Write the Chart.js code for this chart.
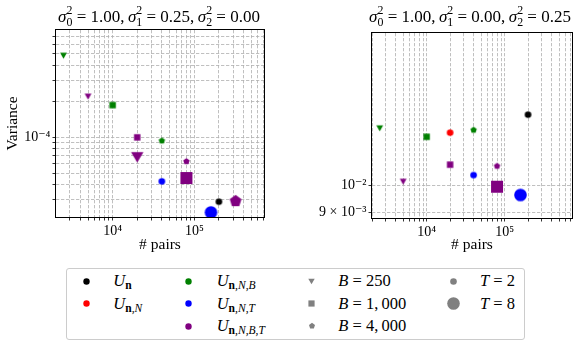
<!DOCTYPE html>
<html>
<head>
<meta charset="utf-8">
<script src="https://cdn.jsdelivr.net/npm/chart.js@4.4.1/dist/chart.umd.min.js"></script>
<style>
  body { margin: 0; width: 584px; height: 347px; background: #fff; position: relative; overflow: hidden;
         font-family: 'Liberation Serif', 'DejaVu Serif', serif; color: #000; }
  canvas { position: absolute; top: 0; }
  #leftChart { left: 0; }
  #rightChart { left: 292px; }
  .title { position: absolute; top: 5px; width: 300px; text-align: center; font-size: 17px; line-height: 18px; white-space: nowrap; }
  .sc { display: inline-block; font-size: 0.7em; line-height: 1em; vertical-align: -0.36em; text-align: left; }
  .sc span { display: block; }
  #legend { position: absolute; left: 66px; top: 268px; width: 459px; height: 72px; box-sizing: border-box;
            border: 1px solid #cccccc; border-radius: 3px; }
  .lbl { position: absolute; font-size: 16.5px; line-height: 18px; white-space: nowrap; transform: translateY(-50%); }
  .lbl sub { font-size: 0.7em; vertical-align: -0.3em; line-height: 0; }
  .mk { position: absolute; }
</style>
</head>
<body>
<canvas id="leftChart" width="292" height="262"></canvas>
<canvas id="rightChart" width="292" height="262"></canvas>
<div class="title" id="leftTitle" style="left:9px"></div>
<div class="title" id="rightTitle" style="left:320px"></div>
<div id="legend"></div>
<script>
// ---- data ----
// left panel: sigma0^2 = 1.00, sigma1^2 = 0.25, sigma2^2 = 0.00
const leftSigmas    = ['1.00', '0.25', '0.00'];
const leftPairs     = [200000, 2500, 10000, 40000, 40000, 160000, 5000, 20000, 80000, 20000, 80000, 320000];
const leftVariance  = [2.9e-5, 4.81e-4, 1.86e-4, 9.37e-5, 4.29e-5, 2.36e-5, 2.19e-4, 1.0e-4, 6.3e-5, 6.81e-5, 4.57e-5, 2.93e-5];
const leftEstimator = ['Un', 'UnNB', 'UnNB', 'UnNB', 'UnNT', 'UnNT', 'UnNBT', 'UnNBT', 'UnNBT', 'UnNBT', 'UnNBT', 'UnNBT'];
const leftB         = [null, 250, 1000, 4000, null, null, 250, 1000, 4000, 250, 1000, 4000];
const leftT         = [null, null, null, null, 2, 8, 2, 2, 2, 8, 8, 8];

// right panel: sigma0^2 = 1.00, sigma1^2 = 0.00, sigma2^2 = 0.25
const rightSigmas    = ['1.00', '0.00', '0.25'];
const rightPairs     = [200000, 20000, 2500, 10000, 40000, 40000, 160000, 5000, 20000, 80000, 80000];
const rightVariance  = [1.325e-2, 1.234e-2, 1.255e-2, 1.214e-2, 1.247e-2, 1.043e-2, 9.64e-3, 1.016e-2, 1.087e-2, 1.081e-2, 9.96e-3];
const rightEstimator = ['Un', 'UnN', 'UnNB', 'UnNB', 'UnNB', 'UnNT', 'UnNT', 'UnNBT', 'UnNBT', 'UnNBT', 'UnNBT'];
const rightB         = [null, null, 250, 1000, 4000, null, null, 250, 1000, 4000, 1000];
const rightT         = [null, null, null, null, null, 2, 8, 2, 2, 2, 8];

// axis ranges and tick labels
const leftXRange  = [2025, 713000];
const rightXRange = [1990, 733000];
const leftYRange  = [2.16e-5, 7.89e-4];
const rightYRange = [8.8e-3, 1.831e-2];
const xTickValues = [1e4, 1e5];
const xTickLabels = ['10⁴', '10⁵'];
const leftYTickValues  = [1e-4];
const leftYTickLabels  = ['10⁻⁴'];
const rightYTickValues = [9e-3, 1e-2];
const rightYTickLabels = ['9 × 10⁻³', '10⁻²'];

// ---- styles ----
const FONT = "'Liberation Serif', 'DejaVu Serif', serif";
const estimatorColors = { Un: '#000000', UnN: '#ff0000', UnNB: '#008000', UnNT: '#0000ff', UnNBT: '#800080' };
const shapeForB = { 250: 'triangle', 1000: 'square', 4000: 'pentagon' };
const smallSize = { circle: 6.6, square: 6.4, triangle: 6.8, pentagon: 6.4 };
const bigSize   = { circle: 12.6, square: 12, triangle: 12.4, pentagon: 11.8 };

// Draw one marker shape into a small canvas (used as a Chart.js pointStyle)
function makeMarker(shape, color, size) {
    const pad = 2;
    const dim = Math.ceil(size) + pad * 2;
    const c = document.createElement('canvas');
    c.width = dim;
    c.height = dim;
    const ctx = c.getContext('2d');
    const cx = dim / 2, cy = dim / 2, r = size / 2;
    ctx.fillStyle = color;
    ctx.beginPath();
    if (shape === 'circle') {
        ctx.arc(cx, cy, r, 0, Math.PI * 2);
    } else if (shape === 'square') {
        ctx.rect(cx - r, cy - r, size, size);
    } else if (shape === 'triangle') {
        const h = size * 0.85;  // pointing down
        ctx.moveTo(cx - r, cy - h / 2);
        ctx.lineTo(cx + r, cy - h / 2);
        ctx.lineTo(cx, cy + h / 2);
        ctx.closePath();
    } else if (shape === 'pentagon') {
        const pr = size / 1.902;  // circumradius from width
        for (let k = 0; k < 5; k++) {
            const a = -Math.PI / 2 + k * 2 * Math.PI / 5;
            const x = cx + pr * Math.cos(a), y = cy + pr * Math.sin(a);
            if (k === 0) ctx.moveTo(x, y); else ctx.lineTo(x, y);
        }
        ctx.closePath();
    }
    ctx.fill();
    return c;
}

// all 1..9 x 10^n values inside [min, max]
function logTicks(min, max) {
    const ticks = [];
    for (let e = Math.floor(Math.log10(min)); e <= Math.ceil(Math.log10(max)); e++) {
        for (let d = 1; d <= 9; d++) {
            const v = d * Math.pow(10, e);
            if (v >= min && v <= max) ticks.push({ value: v, major: d === 1 });
        }
    }
    return ticks;
}

function labelFor(v, values, labels) {
    const idx = values.findIndex(t => Math.abs(t - v) / t < 1e-6);
    return idx >= 0 ? labels[idx] : '';
}

// black box round the plot area, like the matplotlib spines
const framePlugin = {
    id: 'frame',
    afterDraw(chart) {
        const { ctx, chartArea: a } = chart;
        ctx.save();
        ctx.strokeStyle = '#000';
        ctx.lineWidth = 1;
        ctx.strokeRect(Math.round(a.left) - 0.5, Math.round(a.top) - 0.5,
                       Math.round(a.right - a.left) + 1, Math.round(a.bottom - a.top) + 1);
        ctx.restore();
    }
};

function logAxis(range, tickValues, tickLabels, extra) {
    return Object.assign({
        type: 'logarithmic',
        min: range[0],
        max: range[1],
        afterBuildTicks: s => { s.ticks = logTicks(s.min, s.max); },
        ticks: {
            autoSkip: false, maxRotation: 0, minRotation: 0, padding: 2, color: '#000',
            font: { family: FONT, size: 14 },
            callback: v => labelFor(v, tickValues, tickLabels)
        },
        grid: { color: '#b0b0b0', lineWidth: 0.8, tickLength: 3.5, tickColor: '#000', tickWidth: 0.8 },
        border: { display: false, dash: [3.3, 1.7] }
    }, extra);
}

function makePanel(canvasId, p) {
    const markers = p.pairs.map((x, i) => {
        const shape = shapeForB[p.B[i]] || 'circle';
        const size = (p.T[i] === 8 ? bigSize : smallSize)[shape];
        return { shape, size, color: estimatorColors[p.estimator[i]] };
    });
    new Chart(document.getElementById(canvasId), {
        type: 'scatter',
        data: {
            datasets: [{
                data: p.pairs.map((x, i) => ({ x: x, y: p.variance[i] })),
                pointStyle: markers.map(m => makeMarker(m.shape, m.color, m.size)),
                pointRadius: markers.map(m => m.size / 2),
                pointHoverRadius: markers.map(m => m.size / 2),
                clip: 0
            }]
        },
        options: {
            responsive: false,
            animation: false,
            events: [],
            layout: { padding: { top: p.padTop, right: p.padRight, left: 0, bottom: 0 } },
            plugins: { legend: { display: false }, tooltip: { enabled: false } },
            scales: {
                x: logAxis(p.xRange, xTickValues, xTickLabels, {
                    title: { display: true, text: '# pairs', color: '#000', font: { family: FONT, size: 15.5 },
                             padding: { top: 0, bottom: 8 } },
                    afterFit: s => { s.height = p.xAxisHeight; }
                }),
                y: logAxis(p.yRange, p.yTickValues, p.yTickLabels, {
                    title: { display: p.yTitle, text: 'Variance', color: '#000', font: { family: FONT, size: 15.5 },
                             padding: { top: 3.5, bottom: 0 } },
                    afterFit: s => { s.width = p.yAxisWidth; }
                })
            }
        },
        plugins: [framePlugin]
    });
}

makePanel('leftChart', {
    pairs: leftPairs, variance: leftVariance, estimator: leftEstimator, B: leftB, T: leftT,
    xRange: leftXRange, yRange: leftYRange, yTickValues: leftYTickValues, yTickLabels: leftYTickLabels,
    yTitle: true, yAxisWidth: 56, xAxisHeight: 45, padTop: 30, padRight: 28
});
makePanel('rightChart', {
    pairs: rightPairs, variance: rightVariance, estimator: rightEstimator, B: rightB, T: rightT,
    xRange: rightXRange, yRange: rightYRange, yTickValues: rightYTickValues, yTickLabels: rightYTickLabels,
    yTitle: false, yAxisWidth: 80, xAxisHeight: 44, padTop: 33, padRight: 12
});

// ---- titles ----
function sigma(i) {
    return '<i>σ</i><span class="sc"><span>2</span><span>' + i + '</span></span>';
}
function titleHtml(vals) {
    return vals.map((v, i) => sigma(i) + '&#8197;=&#8197;' + v).join(',&thinsp;');
}
document.getElementById('leftTitle').innerHTML = titleHtml(leftSigmas);
document.getElementById('rightTitle').innerHTML = titleHtml(rightSigmas);

// ---- legend ----
const legendLabels = [
    '<i>U</i><sub><b>n</b></sub>',
    '<i>U</i><sub><b>n</b>,<i>N</i></sub>',
    '<i>U</i><sub><b>n</b>,<i>N</i>,<i>B</i></sub>',
    '<i>U</i><sub><b>n</b>,<i>N</i>,<i>T</i></sub>',
    '<i>U</i><sub><b>n</b>,<i>N</i>,<i>B</i>,<i>T</i></sub>',
    '<i>B</i>&#8197;=&#8197;250', '<i>B</i>&#8197;=&#8197;1,&thinsp;000', '<i>B</i>&#8197;=&#8197;4,&thinsp;000',
    '<i>T</i>&#8197;=&#8197;2', '<i>T</i>&#8197;=&#8197;8'
];
const legendMarkers = [
    ['circle', estimatorColors.Un, 6.4], ['circle', estimatorColors.UnN, 6.4],
    ['circle', estimatorColors.UnNB, 6.4], ['circle', estimatorColors.UnNT, 6.4], ['circle', estimatorColors.UnNBT, 6.4],
    ['triangle', '#808080', 6.4], ['square', '#808080', 6.2], ['pentagon', '#808080', 6],
    ['circle', '#808080', 6.6], ['circle', '#808080', 12.6]
];
// column / row of each legend entry (matplotlib ncol=4, filled column-wise)
const legendCell = [[0, 0], [0, 1], [1, 0], [1, 1], [1, 2], [2, 0], [2, 1], [2, 2], [3, 0], [3, 1]];
const colMarkerX = [20.7, 122.3, 245.7, 387.3];
const colTextX = [47.3, 150.7, 272.3, 414];
const rowY = [13.2, 35.8, 58.2];

const legend = document.getElementById('legend');
legendLabels.forEach((html, i) => {
    const [col, row] = legendCell[i];
    const [shape, color, size] = legendMarkers[i];
    const m = makeMarker(shape, color, size);
    m.className = 'mk';
    m.style.left = (colMarkerX[col] - m.width / 2 - 1) + 'px';
    m.style.top = (rowY[row] - m.height / 2 - 1) + 'px';
    legend.appendChild(m);
    const t = document.createElement('div');
    t.className = 'lbl';
    t.style.left = (colTextX[col] - 1) + 'px';
    t.style.top = (rowY[row] - 1) + 'px';
    t.innerHTML = html;
    legend.appendChild(t);
});
</script>
</body>
</html>
